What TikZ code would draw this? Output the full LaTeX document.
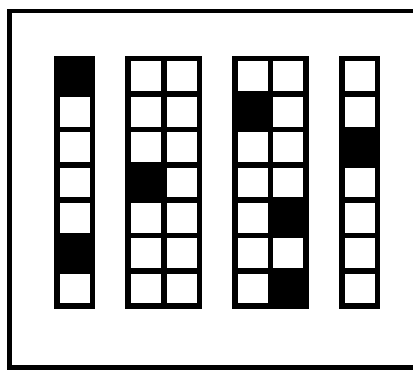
\documentclass[tikz,border=0pt]{standalone}
\usepackage{tikz}

\begin{document}
\begin{tikzpicture}[
    x=0.025cm, y=-0.025cm,
    % Styles
    frame/.style={draw, line width=0.1125cm},
    cell/.style={draw, line width=0.1375cm, fill=white},
    dark/.style={cell, fill=black},
]
    \useasboundingbox (0,0) rectangle (413,370);
    \clip (0,0) rectangle (413,370);

    % Outer frame
    \draw[frame] (9.5,11) rectangle (440,367.5);

    % Grid columns: left x / number of cells across
    \foreach \cx/\n in {57/1, 128.2/2, 235/2, 341.8/1} {
        \foreach \r in {0,...,6} {
            \foreach \c in {1,...,\n} {
                \draw[cell] ({\cx+35.6*(\c-1)},{58.7+35.35*\r}) rectangle ++(35.6,35.35);
            }
        }
    }

    % Black cells: column x / cell across / row
    \foreach \cx/\c/\r in {57/0/0, 57/0/5, 128.2/0/3, 235/0/1, 235/1/4, 235/1/6, 341.8/0/2} {
        \draw[dark] ({\cx+35.6*\c},{58.7+35.35*\r}) rectangle ++(35.6,35.35);
    }

\end{tikzpicture}
\end{document}
